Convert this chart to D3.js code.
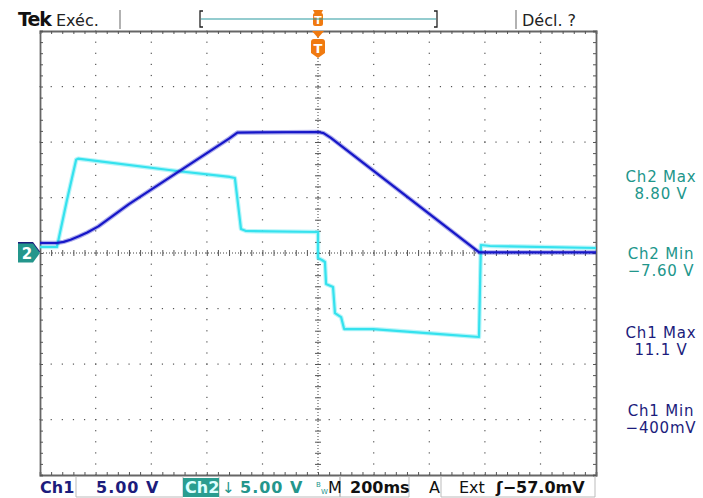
<!DOCTYPE html>
<html>
<head>
<meta charset="utf-8">
<script src="https://cdn.jsdelivr.net/npm/d3@7"></script>
<style>
  body { margin: 0; background: #fff; }
  text { font-family: "DejaVu Sans", sans-serif; }
</style>
</head>
<body>
<svg id="scope" width="703" height="498"></svg>
<script>
// Ch1 (dark blue) - time in ms, volts
const ch1Time  = [-1000, -940, -915, -890, -860, -830, -790, -680, -320, -290, 0, 20, 45, 580, 1000];
const ch1Volts = [0.9, 0.9, 1.0, 1.2, 1.5, 1.85, 2.4, 4.4, 10.3, 10.85, 10.9, 10.8, 10.4, 0.05, 0.05];

// Ch2 (cyan)
const ch2Time  = [-1000, -939, -903, -870, -863, -507, -317, -299, -277, -259, 0, 0, 14, 25, 29, 54, 61, 83, 94, 198, 295, 439, 579, 586, 619, 1000];
const ch2Volts = [0.54, 0.54, 4.78, 8.4, 8.5, 7.39, 6.85, 6.76, 2.16, 1.98, 1.89, -0.45, -0.63, -0.81, -2.79, -3.06, -5.41, -5.77, -6.85, -6.85, -7.03, -7.3, -7.57, 0.72, 0.63, 0.45];

// side measurements
const measureNames  = ["Ch2 Max", "Ch2 Min", "Ch1 Max", "Ch1 Min"];
const measureValues = ["8.80 V", "\u22127.60 V", "11.1 V", "\u2212400mV"];
const measureColors = ["#21968b", "#21968b", "#1c1c7c", "#1c1c7c"];

// screen settings
const timeDomain = [-1000, 1000];   // 200 ms/div
const voltDomain = [-20, 20];       // 5 V/div
const ch1Color = "#1616c8";
const ch2Color = "#35e2ee";
const teal = "#24968c";
const navy = "#1c1c7c";

const svg = d3.select("#scope");
const gLeft = 40, gRight = 596, gTop = 31, gBottom = 475;

const x = d3.scaleLinear().domain(timeDomain).range([gLeft, gRight]);
const y = d3.scaleLinear().domain(voltDomain).range([gBottom, gTop]);

const majorT = d3.range(-1000, 1001, 200);
const majorV = d3.range(-20, 21, 5);
const minorT = d3.range(-1000, 1001, 40);
const minorV = d3.range(-20, 20.01, 1);

const grid = svg.append("g").attr("class", "graticule");

// dotted grid lines (interior, not center)
majorT.filter(t => t !== 0 && t !== -1000 && t !== 1000).forEach(t => {
    grid.selectAll(null).data(minorV).enter().append("rect")
        .attr("x", x(t) - 0.5).attr("y", d => y(d) - 0.5)
        .attr("width", 1.2).attr("height", 1.2).attr("fill", "#555");
});
majorV.filter(v => v !== 0 && v !== -20 && v !== 20).forEach(v => {
    grid.selectAll(null).data(minorT).enter().append("rect")
        .attr("x", d => x(d) - 0.5).attr("y", y(v) - 0.5)
        .attr("width", 1.2).attr("height", 1.2).attr("fill", "#555");
});

// center cross lines: fine dots + minor ticks
grid.append("line")
    .attr("x1", gLeft).attr("x2", gRight).attr("y1", y(0)).attr("y2", y(0))
    .attr("stroke", "#444").attr("stroke-width", 1).attr("stroke-dasharray", "1,2");
grid.append("line")
    .attr("x1", x(0)).attr("x2", x(0)).attr("y1", gTop).attr("y2", gBottom)
    .attr("stroke", "#444").attr("stroke-width", 1).attr("stroke-dasharray", "1,2");
grid.append("g").attr("transform", `translate(0,${y(0)})`)
    .call(d3.axisBottom(x).tickValues(minorT).tickSize(3).tickFormat(""))
    .call(g => g.select(".domain").remove());
grid.append("g").attr("transform", `translate(0,${y(0)})`)
    .call(d3.axisTop(x).tickValues(minorT).tickSize(3).tickFormat(""))
    .call(g => g.select(".domain").remove());
grid.append("g").attr("transform", `translate(${x(0)},0)`)
    .call(d3.axisLeft(y).tickValues(minorV).tickSize(3).tickFormat(""))
    .call(g => g.select(".domain").remove());
grid.append("g").attr("transform", `translate(${x(0)},0)`)
    .call(d3.axisRight(y).tickValues(minorV).tickSize(3).tickFormat(""))
    .call(g => g.select(".domain").remove());

// border with inward ticks
grid.append("g").attr("transform", `translate(0,${gTop})`)
    .call(d3.axisBottom(x).tickValues(minorT).tickSize(3).tickFormat(""));
grid.append("g").attr("transform", `translate(0,${gBottom})`)
    .call(d3.axisTop(x).tickValues(minorT).tickSize(3).tickFormat(""));
grid.append("g").attr("transform", `translate(${gLeft},0)`)
    .call(d3.axisRight(y).tickValues(minorV).tickSize(3).tickFormat(""));
grid.append("g").attr("transform", `translate(${gRight},0)`)
    .call(d3.axisLeft(y).tickValues(minorV).tickSize(3).tickFormat(""));
grid.selectAll(".tick line").attr("stroke", "#555");
grid.selectAll(".domain").attr("stroke", "#666").attr("stroke-width", 1.8);

// traces
const line = d3.line().x(d => x(d[0])).y(d => y(d[1]));
const ch2Data = d3.zip(ch2Time, ch2Volts);
const ch1Data = d3.zip(ch1Time, ch1Volts);

[[ch2Data, ch2Color], [ch1Data, ch1Color]].forEach(([data, col]) => {
    svg.append("path").datum(data).attr("d", line)
        .attr("fill", "none").attr("stroke", col).attr("stroke-width", 4.5)
        .attr("stroke-opacity", 0.35).attr("stroke-linejoin", "round");
    svg.append("path").datum(data).attr("d", line)
        .attr("fill", "none").attr("stroke", col).attr("stroke-width", 2.2)
        .attr("stroke-linejoin", "round");
});

// ground markers on the left
const gy = y(0);
const marker = (yy) => `M18,${yy - 9.5}H33L40,${yy}L33,${yy + 9.5}H18Z`;
svg.append("path").attr("d", marker(gy - 1.5)).attr("fill", navy);
svg.append("path").attr("d", marker(gy)).attr("fill", teal);
svg.append("text").attr("x", 27).attr("y", gy + 6).attr("text-anchor", "middle")
    .attr("fill", "#fff").attr("font-weight", "bold").attr("font-size", 15).text("2");

// trigger markers (orange T)
const tx = x(0);
const orange = "#f07a10";
svg.append("path").attr("d", `M${tx - 5},10H${tx + 5}L${tx + 3},14H${tx - 3}Z`).attr("fill", orange);
svg.append("rect").attr("x", tx - 5).attr("y", 13).attr("width", 10).attr("height", 13).attr("rx", 2).attr("fill", orange);
svg.append("text").attr("x", tx).attr("y", 24).attr("text-anchor", "middle").attr("fill", "#fff")
    .attr("font-size", 11).attr("font-weight", "bold").text("T");
svg.append("path").attr("d", `M${tx - 6},31H${tx + 6}L${tx},38Z`).attr("fill", orange);
svg.append("path").attr("d", `M${tx - 7},42Q${tx - 7},39 ${tx - 4},39H${tx + 4}Q${tx + 7},39 ${tx + 7},42V53L${tx},58L${tx - 7},53Z`).attr("fill", orange);
svg.append("text").attr("x", tx).attr("y", 53).attr("text-anchor", "middle").attr("fill", "#fff")
    .attr("font-size", 13).attr("font-weight", "bold").text("T");

// top status bar
svg.append("text").attr("x", 18).attr("y", 26).attr("font-family", "DejaVu Serif")
    .attr("font-weight", "bold").attr("font-size", 19).attr("letter-spacing", -1).attr("fill", "#111").text("Tek");
svg.append("text").attr("x", 56).attr("y", 26).attr("font-size", 16).attr("fill", "#222").text("Exéc.");
svg.append("line").attr("x1", 120).attr("x2", 120).attr("y1", 10).attr("y2", 29).attr("stroke", "#999").attr("stroke-width", 1.5);
svg.append("line").attr("x1", 516).attr("x2", 516).attr("y1", 10).attr("y2", 29).attr("stroke", "#999").attr("stroke-width", 1.5);
svg.append("line").attr("x1", 201).attr("x2", 436).attr("y1", 19).attr("y2", 19).attr("stroke", "#2a9aa0").attr("stroke-width", 1.2);
svg.append("path").attr("d", "M203,11H200V27H203").attr("fill", "none").attr("stroke", "#222").attr("stroke-width", 1.3);
svg.append("path").attr("d", "M434,11H437V27H434").attr("fill", "none").attr("stroke", "#222").attr("stroke-width", 1.3);
svg.append("text").attr("x", 522).attr("y", 26).attr("font-size", 16).attr("fill", "#222").text("Décl. ?");

// side measurement readouts
const mTop = [182, 259, 338, 416];
measureNames.forEach((name, i) => {
    svg.append("text").attr("x", 661).attr("y", mTop[i]).attr("text-anchor", "middle")
        .attr("font-size", 15).attr("letter-spacing", 0.8).attr("fill", measureColors[i]).text(name);
    svg.append("text").attr("x", 661).attr("y", mTop[i] + 17).attr("text-anchor", "middle")
        .attr("font-size", 15).attr("letter-spacing", 0.8).attr("fill", measureColors[i]).text(measureValues[i]);
});

// bottom status bar
const by = 493;
const box = (x0, x1) => svg.append("path")
    .attr("d", `M${x0},${gBottom + 1}V497H${x1}V${gBottom + 1}`)
    .attr("fill", "none").attr("stroke", "#bbb").attr("stroke-width", 1);
box(76, 183);
box(219, 340);
box(340, 409);
box(441, 595);
svg.append("text").attr("x", 40).attr("y", by).attr("font-size", 16).attr("font-weight", "bold")
    .attr("fill", navy).text("Ch1");
svg.append("text").attr("x", 96).attr("y", by).attr("font-size", 16).attr("font-weight", "bold")
    .attr("letter-spacing", 1).attr("fill", navy).text("5.00 V");
svg.append("rect").attr("x", 183).attr("y", 478).attr("width", 36).attr("height", 19).attr("fill", "#2a9d90");
svg.append("text").attr("x", 185).attr("y", by).attr("font-size", 16).attr("font-weight", "bold")
    .attr("fill", "#dff").text("Ch2");
svg.append("text").attr("x", 222).attr("y", by).attr("font-size", 15)
    .attr("fill", teal).text("\u2193");
svg.append("text").attr("x", 240).attr("y", by).attr("font-size", 16).attr("font-weight", "bold")
    .attr("letter-spacing", 1).attr("fill", teal).text("5.00 V");
svg.append("text").attr("x", 316).attr("y", 487).attr("font-size", 7).attr("fill", teal).text("B");
svg.append("text").attr("x", 321).attr("y", 494).attr("font-size", 7).attr("fill", teal).text("W");
svg.append("text").attr("x", 328).attr("y", by).attr("font-size", 16).attr("fill", "#111").text("M");
svg.append("text").attr("x", 350).attr("y", by).attr("font-size", 16).attr("font-weight", "bold")
    .attr("fill", "#111").text("200ms");
svg.append("text").attr("x", 429).attr("y", by).attr("font-size", 16).attr("fill", "#111").text("A");
svg.append("text").attr("x", 459).attr("y", by).attr("font-size", 16).attr("fill", "#111").text("Ext");
svg.append("text").attr("x", 496).attr("y", by).attr("font-size", 16).attr("font-weight", "bold")
    .attr("fill", "#111").text("\u0283\u221257.0mV");
</script>
</body>
</html>
